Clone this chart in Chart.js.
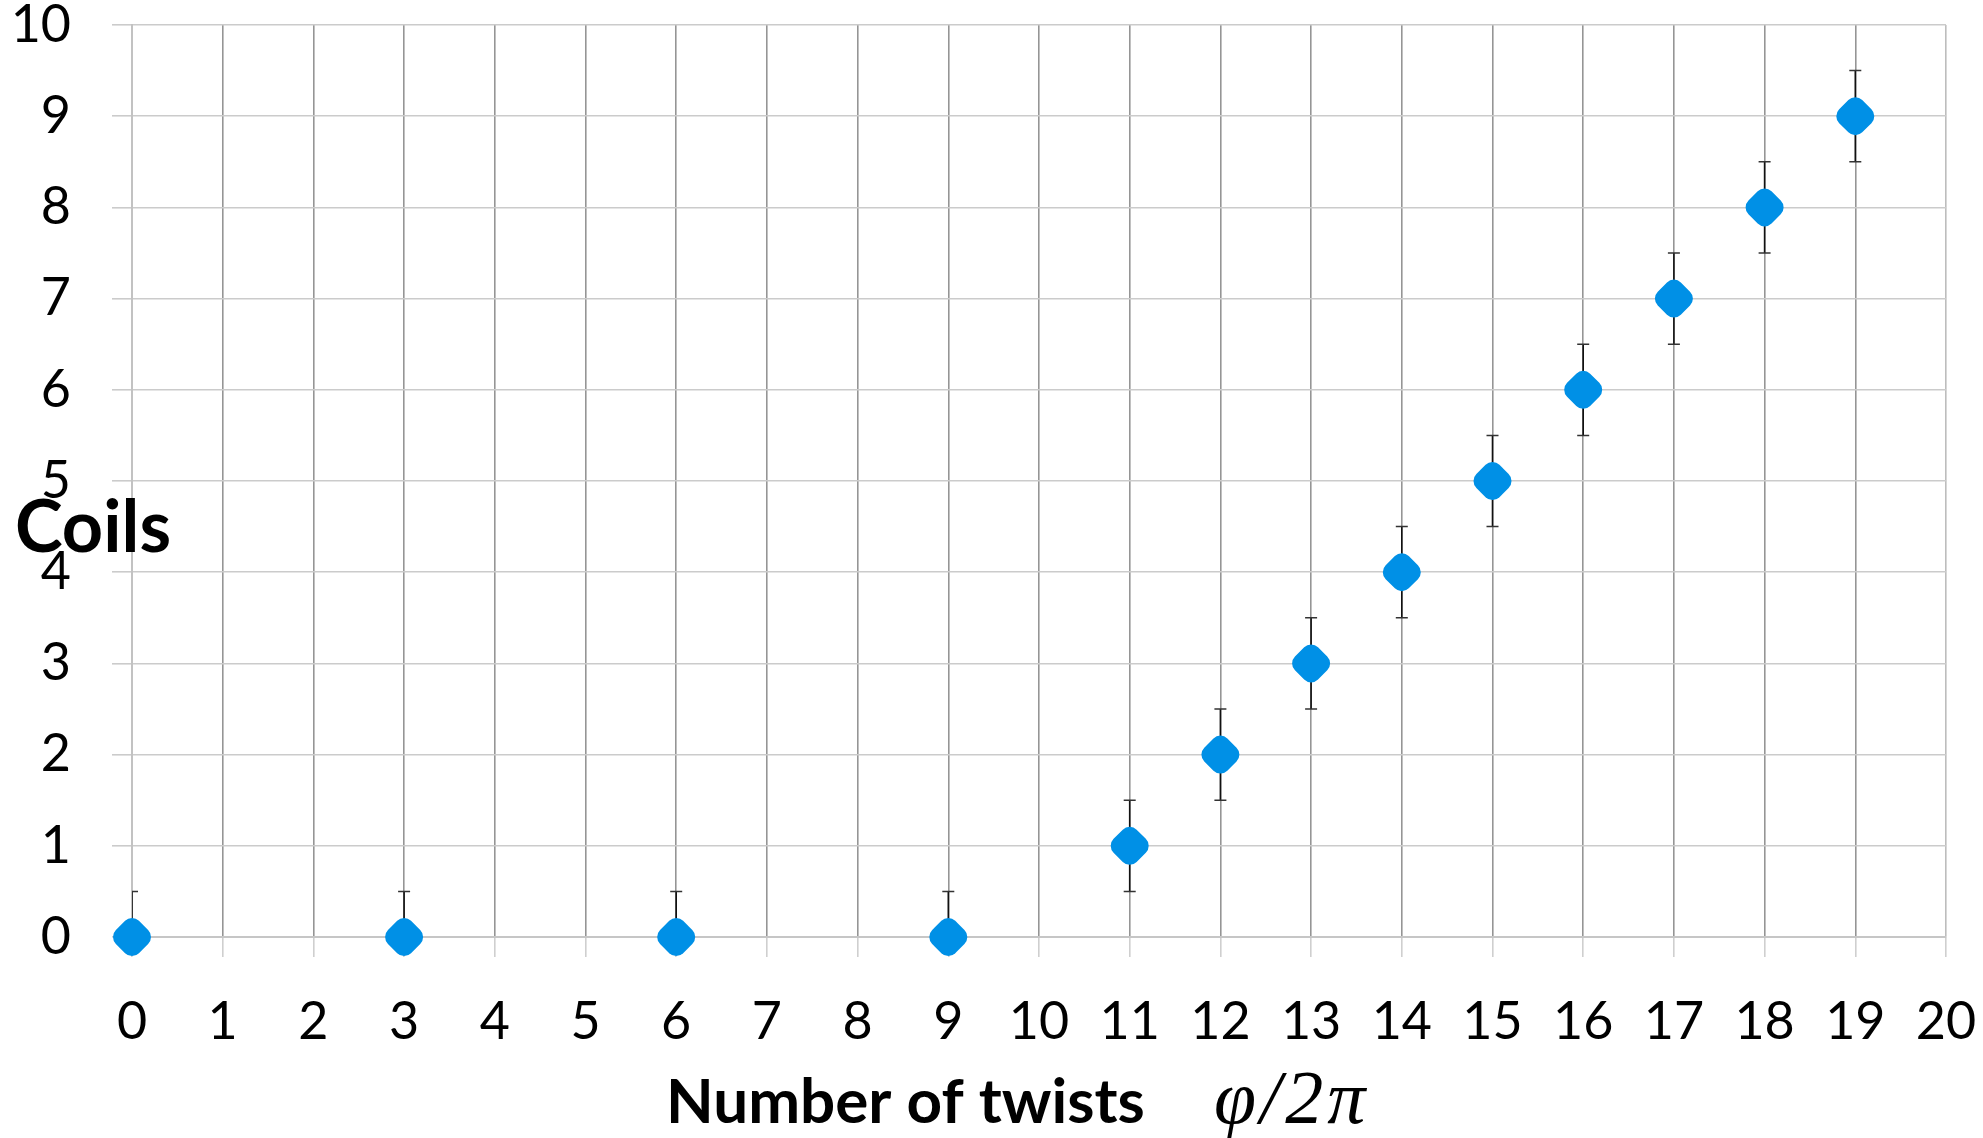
<!DOCTYPE html>
<html><head><meta charset="utf-8">
<script src="https://cdn.jsdelivr.net/npm/chart.js@4/dist/chart.umd.min.js"></script>
<style>html,body{margin:0;padding:0;background:#fff}#wrap{width:1983px;height:1138px;position:relative}</style>
</head><body><div id="wrap"><canvas id="c"></canvas></div>
<script>
const twists = [0, 3, 6, 9, 11, 12, 13, 14, 15, 16, 17, 18, 19];
const coils = [0, 0, 0, 0, 1, 2, 3, 4, 5, 6, 7, 8, 9];
const coilErr = [0.5, 0.5, 0.5, 0.5, 0.5, 0.5, 0.5, 0.5, 0.5, 0.5, 0.5, 0.5, 0.5];
const xTickValues = [0, 1, 2, 3, 4, 5, 6, 7, 8, 9, 10, 11, 12, 13, 14, 15, 16, 17, 18, 19, 20];
const yTickValues = [0, 1, 2, 3, 4, 5, 6, 7, 8, 9, 10];
const xTitle = 'Number of twists';
const xTitleMath = 'φ/2π';
const yTitle = 'Coils';

const MARKER = '#0090E6';

function noPad(s) { s.paddingTop = 0; s.paddingBottom = 0; s.paddingLeft = 0; s.paddingRight = 0; }

const errorBars = {
  id: 'errorBars',
  beforeDatasetsDraw(chart) {
    const {ctx, chartArea, scales: {x, y}} = chart;
    ctx.save();
    ctx.beginPath();
    ctx.rect(chartArea.left, chartArea.top, chartArea.right - chartArea.left, chartArea.bottom - chartArea.top);
    ctx.clip();
    twists.forEach((t, i) => {
      const px = x.getPixelForValue(t);
      const yHi = y.getPixelForValue(coils[i] + coilErr[i]);
      const yLo = y.getPixelForValue(coils[i] - coilErr[i]);
      ctx.strokeStyle = '#111';
      ctx.lineWidth = 1.6;
      ctx.beginPath();
      ctx.moveTo(px, yHi); ctx.lineTo(px, yLo); ctx.stroke();
      ctx.strokeStyle = '#333';
      ctx.lineWidth = 1.5;
      ctx.beginPath();
      ctx.moveTo(px - 6, yHi); ctx.lineTo(px + 6, yHi);
      ctx.moveTo(px - 6, yLo); ctx.lineTo(px + 6, yLo);
      ctx.stroke();
    });
    ctx.restore();
  },
  afterDraw(chart) {
    const {ctx} = chart;
    ctx.save();
    ctx.fillStyle = '#000';
    ctx.textBaseline = 'alphabetic';
    ctx.textAlign = 'left';
    ctx.font = 'bold 72px Lato';
    ctx.fillText(yTitle, 15, 552);
    ctx.font = 'bold 62px Lato';
    ctx.fillText(xTitle, 666, 1123);
    ctx.font = 'italic 76px "Liberation Serif"';
    try { ctx.letterSpacing = '4px'; } catch (e) {}
    ctx.fillText(xTitleMath, 1214, 1123);
    ctx.restore();
  }
};

new Chart(document.getElementById('c'), {
  type: 'scatter',
  data: {
    datasets: [{
      data: twists.map((t, i) => ({x: t, y: coils[i]})),
      pointStyle: 'rectRounded',
      pointRotation: 45,
      pointRadius: 19,
      pointBorderWidth: 0,
      backgroundColor: MARKER,
      borderColor: MARKER,
      clip: false
    }]
  },
  options: {
    responsive: true,
    maintainAspectRatio: false,
    animation: false,
    events: [],
    layout: {padding: {top: 25, right: 37, left: 0, bottom: 0}},
    plugins: {legend: {display: false}, tooltip: {enabled: false}},
    scales: {
      x: {
        type: 'linear', min: 0, max: 20,
        afterBuildTicks: s => { s.ticks = xTickValues.map(v => ({value: v})); },
        afterFit: s => { s.height = 201; noPad(s); },
        grid: {
          color: c => (c.tick && (c.tick.value === 0 || c.tick.value === 20)) ? '#bdbdbd' : '#959595',
          lineWidth: 1.6, tickLength: 20, tickColor: '#cfcfcf', tickWidth: 1.6
        },
        border: {display: true, color: '#c6c6c6', width: 2},
        ticks: {font: {family: 'Lato', size: 52}, color: '#000', padding: 34, maxRotation: 0, autoSkip: false}
      },
      y: {
        type: 'linear', min: 0, max: 10,
        afterBuildTicks: s => { s.ticks = yTickValues.map(v => ({value: v})); },
        afterFit: s => { s.width = 132; noPad(s); },
        grid: {color: '#cbcbcb', lineWidth: 1.6, tickLength: 20, tickColor: '#cbcbcb', tickWidth: 1.6},
        border: {display: true, color: '#c2c2c2', width: 2},
        ticks: {font: {family: 'Lato', size: 52}, color: '#000', padding: 41, autoSkip: false}
      }
    }
  },
  plugins: [errorBars]
});
</script></body></html>
